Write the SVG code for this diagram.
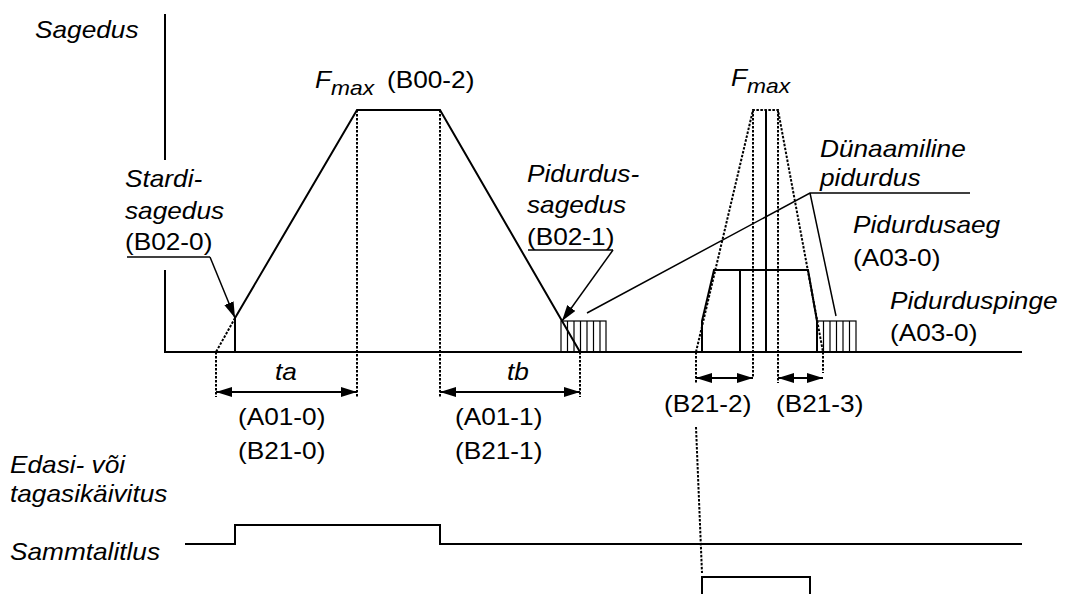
<svg xmlns="http://www.w3.org/2000/svg" width="1067" height="594" viewBox="0 0 1067 594">
<style>
.t{font-family:"Liberation Sans",Arial,sans-serif;font-size:23px;fill:#000}
.i{font-style:italic}
.sub{font-size:20px}
.ln{stroke:#000;stroke-width:2;fill:none}
.th{stroke:#000;stroke-width:1.5;fill:none}
.dot{stroke:#000;stroke-width:2;stroke-dasharray:2.5 1.5;fill:none}
.h{stroke:#000;stroke-width:1.2;fill:none}
</style>
<defs>
<marker id="ah" viewBox="0 0 16 10" refX="16" refY="5" markerWidth="16" markerHeight="10" markerUnits="userSpaceOnUse" orient="auto-start-reverse"><path d="M0,0 L16,5 L0,10 z" fill="#000"/></marker>
</defs>
<rect width="1067" height="594" fill="#fff"/>
<g id="connectors">
<path class="ln" d="M165,14 V160 M165,270 V352 H1022"/>
<path class="ln" d="M235,352 V318 L357,110 H440 L580,352"/>
<path class="dot" d="M235,318 L216,352"/>
<rect class="h" x="561" y="321" width="45" height="31"/>
<path class="h" d="M567.5,321V352M574,321V352M580.5,321V352M587,321V352M593.5,321V352M600,321V352"/>
<path class="dot" d="M216,352 V397 M357,110 V397 M440,110 V397 M580,352 V397"/>
<line class="ln" x1="216" y1="392" x2="357" y2="392" marker-start="url(#ah)" marker-end="url(#ah)"/>
<line class="ln" x1="440" y1="392" x2="580" y2="392" marker-start="url(#ah)" marker-end="url(#ah)"/>
<path class="dot" d="M696,352 L753,110 H778 L823,352 M753,110 V378 M778,110 V383 M696,352 V383 M823,352 V373"/>
<path class="ln" d="M766,110 V352"/>
<path class="ln" d="M702,352 V321 L714,270 H808 L817,321 V352 M740,270 V352"/>
<rect class="h" x="817" y="321" width="39" height="31"/>
<path class="h" d="M823.5,321V352M830,321V352M836.5,321V352M843,321V352M849.5,321V352"/>
<line class="ln" x1="696" y1="378" x2="753" y2="378" marker-start="url(#ah)" marker-end="url(#ah)"/>
<line class="ln" x1="778" y1="378" x2="823" y2="378" marker-start="url(#ah)" marker-end="url(#ah)"/>
<path class="dot" d="M696,427 L702,573"/>
<path class="th" d="M127,257 H210"/>
<line class="th" x1="210" y1="257" x2="235" y2="318" marker-end="url(#ah)"/>
<path class="th" d="M528,250 H613"/>
<line class="th" x1="613" y1="250" x2="562" y2="321" marker-end="url(#ah)"/>
<path class="th" d="M970,193 H810 L587,313 M810,193 L836,316"/>
<path class="ln" d="M185,544 H235 V525 H440 V544 H1022"/>
<path class="ln" d="M702,594 V577 H810 V594"/>
</g>
<g id="label-sagedus"><text class="t i" transform="translate(35 38) scale(1.14 1)">Sagedus</text></g>
<g id="label-fmax1">
<text class="t i" transform="translate(315 88) scale(1.14 1)">F</text>
<text class="t i sub" transform="translate(331 95) scale(1.14 1)">max</text>
<text class="t" transform="translate(387 88) scale(1.14 1)">(B00-2)</text>
</g>
<g id="label-fmax2">
<text class="t i" transform="translate(731 86) scale(1.14 1)">F</text>
<text class="t i sub" transform="translate(747 93) scale(1.14 1)">max</text>
</g>
<g id="label-stardi">
<text class="t i" transform="translate(125 187) scale(1.14 1)">Stardi-</text>
<text class="t i" transform="translate(125 219) scale(1.14 1)">sagedus</text>
<text class="t" transform="translate(125 250) scale(1.14 1)">(B02-0)</text>
</g>
<g id="label-pidurdus">
<text class="t i" transform="translate(527 182) scale(1.14 1)">Pidurdus-</text>
<text class="t i" transform="translate(527 213) scale(1.14 1)">sagedus</text>
<text class="t" transform="translate(527 245) scale(1.14 1)">(B02-1)</text>
</g>
<g id="label-dyn">
<text class="t i" transform="translate(820 157) scale(1.14 1)">Dünaamiline</text>
<text class="t i" transform="translate(820 186) scale(1.14 1)">pidurdus</text>
</g>
<g id="label-aeg">
<text class="t i" transform="translate(853 233) scale(1.14 1)">Pidurdusaeg</text>
<text class="t" transform="translate(853 266) scale(1.14 1)">(A03-0)</text>
</g>
<g id="label-pinge">
<text class="t i" transform="translate(890 309) scale(1.14 1)">Pidurduspinge</text>
<text class="t" transform="translate(890 341) scale(1.14 1)">(A03-0)</text>
</g>
<g id="label-ta">
<text class="t i" transform="translate(275 380) scale(1.14 1)">ta</text>
<text class="t" transform="translate(238 425) scale(1.14 1)">(A01-0)</text>
<text class="t" transform="translate(238 459) scale(1.14 1)">(B21-0)</text>
</g>
<g id="label-tb">
<text class="t i" transform="translate(507 380) scale(1.14 1)">tb</text>
<text class="t" transform="translate(455 425) scale(1.14 1)">(A01-1)</text>
<text class="t" transform="translate(455 459) scale(1.14 1)">(B21-1)</text>
</g>
<g id="label-b21">
<text class="t" transform="translate(664 412) scale(1.14 1)">(B21-2)</text>
<text class="t" transform="translate(776 412) scale(1.14 1)">(B21-3)</text>
</g>
<g id="label-signals">
<text class="t i" transform="translate(10 473) scale(1.14 1)">Edasi- või</text>
<text class="t i" transform="translate(10 502) scale(1.14 1)">tagasikäivitus</text>
<text class="t i" transform="translate(10 560) scale(1.14 1)">Sammtalitlus</text>
</g>
</svg>
